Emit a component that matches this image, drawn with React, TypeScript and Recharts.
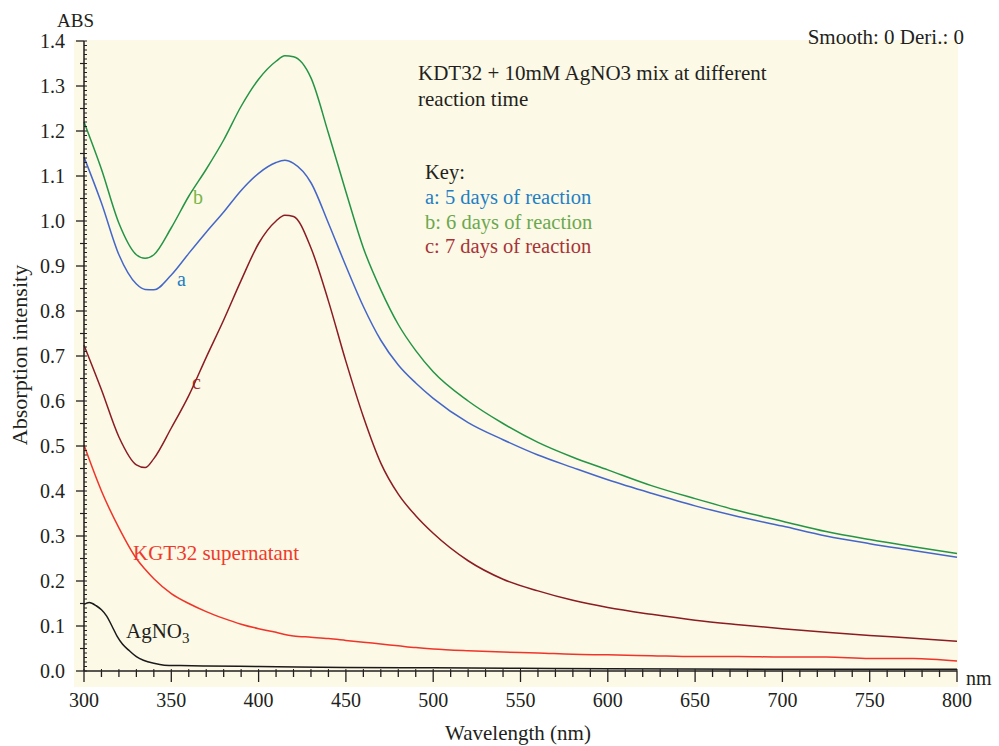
import React from 'react';
import { LineChart, Line, XAxis, YAxis, Customized } from 'recharts';

// wavelengths (nm) shared by curves a, b, c and the supernatant
const WAVELENGTH = [300, 310, 320, 330, 335, 340, 350, 360, 370, 380, 390, 400, 410, 415, 420, 430, 440, 450, 460, 470, 480, 490, 500, 520, 540, 560, 580, 600, 625, 650, 675, 700, 725, 750, 775, 800];

const DAY5 = [1.142, 1.04, 0.925, 0.86, 0.848, 0.847, 0.88, 0.928, 0.975, 1.02, 1.068, 1.106, 1.13, 1.135, 1.128, 1.085, 0.995, 0.9, 0.81, 0.735, 0.68, 0.64, 0.606, 0.552, 0.514, 0.48, 0.452, 0.425, 0.395, 0.367, 0.343, 0.322, 0.3, 0.283, 0.268, 0.253];
const DAY6 = [1.22, 1.115, 0.995, 0.925, 0.917, 0.925, 0.985, 1.055, 1.115, 1.18, 1.255, 1.315, 1.355, 1.367, 1.365, 1.318, 1.195, 1.065, 0.94, 0.847, 0.77, 0.712, 0.665, 0.6, 0.55, 0.508, 0.475, 0.447, 0.412, 0.383, 0.356, 0.333, 0.31, 0.292, 0.276, 0.261];
const DAY7 = [0.724, 0.625, 0.52, 0.458, 0.452, 0.472, 0.54, 0.612, 0.697, 0.78, 0.868, 0.95, 1.0, 1.013, 1.01, 0.94, 0.822, 0.688, 0.565, 0.462, 0.393, 0.345, 0.306, 0.245, 0.204, 0.178, 0.157, 0.141, 0.126, 0.113, 0.103, 0.094, 0.086, 0.079, 0.073, 0.066];
const SUPERNATANT = [0.502, 0.4, 0.318, 0.25, 0.226, 0.205, 0.172, 0.15, 0.132, 0.117, 0.104, 0.094, 0.086, 0.081, 0.078, 0.075, 0.072, 0.068, 0.064, 0.06, 0.056, 0.052, 0.049, 0.045, 0.042, 0.04, 0.037, 0.036, 0.034, 0.032, 0.032, 0.031, 0.031, 0.028, 0.028, 0.022];

// AgNO3 blank, read on its own grid
const AG_WAVELENGTH = [300, 303, 307, 310, 313, 316, 319, 322, 326, 330, 334, 340, 346, 355, 370, 400, 450, 500, 550, 600, 700, 800];
const AGNO3 = [0.148, 0.152, 0.145, 0.136, 0.122, 0.1, 0.077, 0.06, 0.045, 0.032, 0.024, 0.017, 0.013, 0.012, 0.011, 0.01, 0.008, 0.007, 0.006, 0.005, 0.004, 0.004];

const X_TICKS = [300, 350, 400, 450, 500, 550, 600, 650, 700, 750, 800];
const Y_TICKS = [0, 0.1, 0.2, 0.3, 0.4, 0.5, 0.6, 0.7, 0.8, 0.9, 1.0, 1.1, 1.2, 1.3, 1.4];

const toRows = (xs: number[], ys: number[]) => xs.map((x, i) => ({ x, y: ys[i] }));

const FONT = '"Liberation Serif", "DejaVu Serif", serif';
const INK = '#231f20';

// minor ticks every 10 nm / 0.01 ABS
const xMinor: number[] = [];
for (let v = 300; v <= 800; v += 10) xMinor.push(v);
const yMinor: number[] = [];
for (let i = 0; i <= 140; i++) yMinor.push(i / 100);

const XTick = (props: any) => {
  const { x, y, payload } = props;
  const v = payload.value;
  const major = X_TICKS.includes(v);
  return (
    <g>
      <line x1={x} x2={x} y1={y} y2={y + (major ? 11 : 6)} stroke={INK} strokeWidth={1.3} />
      <line x1={x} x2={x} y1={y} y2={y - 2} stroke={INK} strokeWidth={1} />
      {major && (
        <text x={x} y={y + 36} textAnchor="middle" fontFamily={FONT} fontSize={20} fill={INK}>
          {v}
        </text>
      )}
    </g>
  );
};

const YTick = (props: any) => {
  const { x, y, payload } = props;
  const n = Math.round(payload.value * 100);
  const major = Y_TICKS.some((t) => Math.round(t * 100) === n);
  const half = n % 5 === 0;
  return (
    <g>
      {major && <line x1={x} x2={x - 8} y1={y} y2={y} stroke={INK} strokeWidth={1.3} />}
      {!major && half && <line x1={x} x2={x - 4} y1={y} y2={y} stroke={INK} strokeWidth={1.2} />}
      <line x1={x} x2={x + 3} y1={y} y2={y} stroke={INK} strokeWidth={1} />
      {major && (
        <text x={x - 19} y={y + 7} textAnchor="end" fontFamily={FONT} fontSize={20} fill={INK}>
          {(n / 100).toFixed(1)}
        </text>
      )}
    </g>
  );
};

const Annotations = () => (
  <g fontFamily={FONT}>
    <text x={57} y={27} fontSize={19} fill={INK}>ABS</text>
    <text x={964} y={44} fontSize={21} fill={INK} textAnchor="end">Smooth: 0 Deri.: 0</text>
    <text x={418} y={80} fontSize={21} fill={INK}>KDT32 + 10mM AgNO3 mix at different</text>
    <text x={418} y={106} fontSize={21} fill={INK}>reaction time</text>
    <text x={425} y={179} fontSize={20.5} fill={INK}>Key:</text>
    <text x={425} y={204} fontSize={20.5} fill="#1f7fc4">a: 5 days of reaction</text>
    <text x={425} y={229} fontSize={20.5} fill="#6aa84f">b: 6 days of reaction</text>
    <text x={425} y={253} fontSize={20.5} fill="#a83236">c: 7 days of reaction</text>
    <text x={193} y={204} fontSize={20} fill="#7ab648">b</text>
    <text x={177} y={286} fontSize={20} fill="#1f7fc4">a</text>
    <text x={192} y={389} fontSize={20} fill="#a83236">c</text>
    <text x={133} y={560} fontSize={21} fill="#ee3a2c">KGT32 supernatant</text>
    <text x={126} y={638} fontSize={21} fill={INK}>
      AgNO<tspan fontSize={15} dy={5}>3</tspan>
    </text>
    <text x={966} y={685} fontSize={20} fill={INK}>nm</text>
    <text x={518} y={740} fontSize={21} fill={INK} textAnchor="middle">Wavelength (nm)</text>
    <text x={27} y={355} fontSize={22} fill={INK} textAnchor="middle" transform="rotate(-90 27 355)">
      Absorption intensity
    </text>
  </g>
);

export default function App() {
  return (
    <div style={{ position: 'absolute', left: 0, top: 0, width: 999, height: 746, background: '#fff' }}>
      <div style={{ position: 'absolute', left: 74, top: 40, width: 884, height: 647, background: '#fcf9e6' }} />
      <div style={{ position: 'absolute', left: 0, top: 0 }}>
        <LineChart width={999} height={746} margin={{ top: 41, right: 42, bottom: 0, left: 0 }}>
          <XAxis
            dataKey="x"
            type="number"
            domain={[300, 800]}
            ticks={xMinor}
            interval={0}
            height={75}
            tickSize={0}
            tickMargin={0}
            tick={<XTick />}
            axisLine={{ stroke: INK, strokeWidth: 1.5 }}
            allowDuplicatedCategory={false}
          />
          <YAxis
            type="number"
            domain={[0, 1.4]}
            ticks={yMinor}
            interval={0}
            width={84}
            tickSize={0}
            tickMargin={0}
            tick={<YTick />}
            axisLine={{ stroke: INK, strokeWidth: 1.5 }}
          />
          <Line data={toRows(WAVELENGTH, SUPERNATANT)} dataKey="y" type="monotone" stroke="#f0342a" strokeWidth={1.5} dot={false} isAnimationActive={false} />
          <Line data={toRows(AG_WAVELENGTH, AGNO3)} dataKey="y" type="monotone" stroke="#1a1a1a" strokeWidth={1.5} dot={false} isAnimationActive={false} />
          <Line data={toRows(WAVELENGTH, DAY7)} dataKey="y" type="monotone" stroke="#8a1c22" strokeWidth={1.5} dot={false} isAnimationActive={false} />
          <Line data={toRows(WAVELENGTH, DAY5)} dataKey="y" type="monotone" stroke="#4466c8" strokeWidth={1.5} dot={false} isAnimationActive={false} />
          <Line data={toRows(WAVELENGTH, DAY6)} dataKey="y" type="monotone" stroke="#259446" strokeWidth={1.5} dot={false} isAnimationActive={false} />
          <Customized component={Annotations} />
        </LineChart>
      </div>
    </div>
  );
}
